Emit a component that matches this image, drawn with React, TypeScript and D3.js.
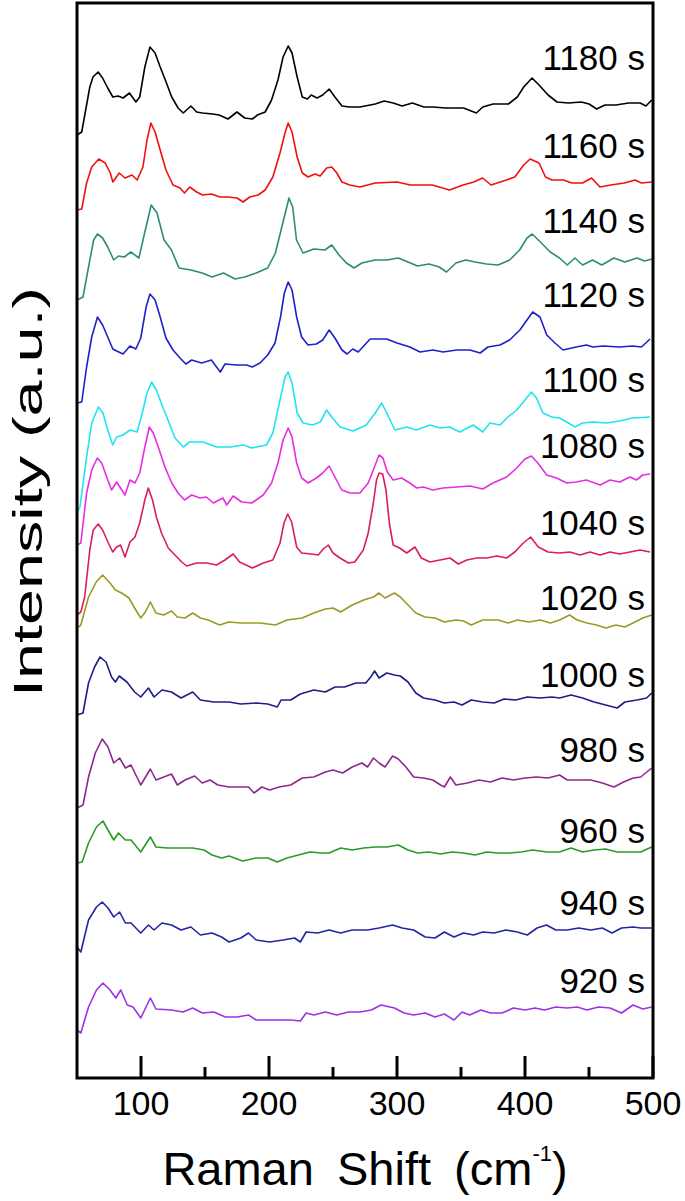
import React from "react";
import * as d3 from "d3";

// ---- Data (Raman shift in cm-1, intensity in a.u., stacked spectra) ----
const labels = ["1180 s", "1160 s", "1140 s", "1120 s", "1100 s", "1080 s", "1040 s", "1020 s", "1000 s", "980 s", "960 s", "940 s", "920 s"];
const colors = ["#000000", "#f01010", "#2e8b7a", "#2020c8", "#20e4ee", "#e62ee0", "#d81e5e", "#9a9a22", "#1e1e86", "#8c2a8c", "#2a9a2a", "#2424a6", "#9a32e6"];
const labelLevels = [1008, 920, 845, 771, 686, 620, 543, 468, 391, 316, 235, 163, 85];
const xTicksMajor = [100, 200, 300, 400, 500];
const xTicksMinor = [150, 250, 350, 450];

const spec1180: [number, number][] = [[50,943],[53.7,946],[60,991],[62.5,1001],[66.5,1006],[70,1000],[74,990],[78,981],[82,982],[86,980],[91,985],[96,976],[99,981],[103,1011],[107,1031],[111,1025],[115,1011],[119,998],[124,981],[129,970],[133,965],[139,972],[143.5,966],[148,965],[156,964],[161,963],[168,959],[175,966],[181,960],[187,959],[191,963],[197,966],[202,978],[207,998],[211,1021],[215,1032],[218,1025],[222,1001],[226,981],[230,979],[233,983],[237.5,980],[242,983],[247,989],[251.5,981],[257,972],[263,971],[271,971],[275,972],[283,974],[290,977],[297,975],[304,972],[312,975],[321,971],[328,971],[338,970],[352,970],[362,965],[367,971],[375,974],[387,974],[394,981],[399,991],[405.5,1000],[411,993],[418,983],[425,976],[434,975],[444,976],[450,974],[456,969],[462.5,973],[471,973],[481,975],[490,975],[494.5,972],[499,978]];

const spec1160: [number, number][] = [[50,868],[53.7,869],[57.5,895],[61.5,911],[67,919],[72,915],[76,905],[78,896],[83,905],[87.5,900],[93,903],[97,898],[101.5,911],[104.7,938],[107.7,955],[111,946],[115,928],[119.5,908],[125,893],[130.5,890],[134,885],[138,891],[143.5,886],[148,883],[155,884],[161.7,881],[168,881],[175,880],[179.7,876],[185,881],[191.5,883],[197,888],[203,901],[208.6,925],[212.5,945],[215,955],[218,946],[222,921],[226,905],[230.5,901],[236,904],[240,902],[245,910],[249,911],[253,905],[257,896],[263,893],[271,891],[283,895],[300,896],[310.5,893],[327.5,893],[341,888],[351.6,893],[360,896],[366.8,900],[373.5,893],[385.5,898],[392,901],[399,913],[404,919],[411,915],[416,901],[421,898],[430,898],[436.6,895],[445,895],[452,900],[458.6,891],[467,893],[477.7,895],[486,898],[491,895],[499,896]];

const spec1140: [number, number][] = [[50,778],[54.7,781],[59,811],[63,838],[66,844],[70,840],[74,831],[78.7,818],[82.4,822],[87,821],[92,826],[98.4,820],[102.8,845],[108,873],[112.5,865],[118,838],[123.8,828],[129.7,810],[139,808],[147.8,805],[155.5,801],[164.5,805],[173.5,799],[181,801],[190,805],[199,810],[205,825],[210,851],[215.6,880],[218.5,871],[221.5,838],[226.6,825],[235,829],[243.7,828],[249,833],[254.7,823],[260.5,815],[266.4,810],[272.5,815],[283,818],[292,818],[301,820],[308.6,816],[316,812],[325,814],[333,811],[338.7,806],[346,815],[353.7,818],[361,816],[370,814],[379,813],[388,818],[395.8,828],[401.6,840],[405.6,844],[412,836],[419.7,826],[427,820],[433,813],[439,820],[445,813],[452.8,818],[460,813],[469.5,820],[478,816],[487.5,820],[493.4,817],[499,819]];

const spec1120: [number, number][] = [[50,675],[53.7,676],[57.5,711],[61.5,741],[66,761],[70,753],[74,741],[78,729],[81,727],[86,724],[91.4,732],[96,729],[99.8,740],[104,771],[107,784],[111,778],[115,761],[119.5,740],[125,728],[130.5,720],[135,714],[139.6,718],[147.4,715],[155,718],[159,711],[162,706],[165.6,714],[174.7,713],[182.5,713],[187,711],[193,715],[199,723],[204.7,735],[209,761],[212,785],[215,796],[218,788],[221.6,761],[225.5,741],[230.5,733],[237,734],[242,738],[247,748],[251.5,740],[257,728],[261,724],[265.4,729],[269.7,726],[279,739],[292,739],[300,735],[310,731],[318,726],[328,728],[336,726],[346.6,728],[357,728],[365,725],[371,731],[380.5,733],[388,738],[396,748],[406,766],[411.7,761],[417,743],[423.4,735],[429.7,728],[440,731],[448,733],[453,731],[461,732],[474,731],[484,732],[491,731],[497.7,739]];

const spec1100: [number, number][] = [[50,566],[52.3,571],[57.5,621],[61.5,655],[66.7,671],[70.3,665],[74,648],[77.9,633],[81,641],[86,643],[91.4,648],[97,646],[101,665],[104.7,685],[108.3,696],[112,688],[117,671],[122,655],[126.6,640],[133,631],[138,636],[148.4,636],[159,631],[169.5,631],[180,633],[186.5,630],[198,633],[203,645],[208.6,678],[212.5,701],[215,706],[218,695],[222,665],[226.6,655],[234,653],[240,656],[245,668],[249,661],[255.5,651],[265.8,647],[276,653],[283,665],[288,675],[292,665],[298.4,648],[307.6,651],[315,648],[325.8,653],[333.6,650],[341,651],[349,646],[359.6,653],[367,646],[372.6,655],[380.5,653],[386.7,661],[393.5,668],[400,678],[405,686],[409,680],[414,665],[421,661],[427,660],[432.6,656],[439,651],[445,655],[453,656],[463.8,655],[474,657],[484,660],[497.7,661]];

const spec1080: [number, number][] = [[50,533],[53,535],[57.5,585],[61.5,608],[65.9,620],[69.3,615],[73.2,601],[77,588],[81,596],[85,588],[87.5,583],[91.4,598],[95.3,595],[99,605],[103,631],[106.5,651],[109.6,645],[113.5,631],[118.7,611],[124,595],[129,585],[134,578],[139.6,583],[146,580],[151,581],[156.5,575],[164,580],[167,573],[172,582],[178.7,576],[186.5,575],[195.5,583],[202,595],[207,615],[211,638],[215,650],[218,641],[221.6,615],[225.5,600],[230.6,595],[237,600],[242,605],[247,612],[251.5,601],[256.8,588],[263.3,585],[271,585],[277.5,595],[283,613],[286,623],[289,620],[292.4,606],[297,598],[303.7,600],[310,595],[315.4,590],[320.5,591],[328,588],[336,590],[346.6,591],[357,592],[367,589],[375,595],[385.7,601],[393.5,610],[400,619],[405,622],[410,615],[417,603],[424.7,600],[432.6,595],[440,596],[448,598],[458.6,593],[466.4,598],[474,596],[482,601],[487,598],[492,603],[497.7,604]];

const spec1040: [number, number][] = [[50,463],[53,466],[56,481],[60,528],[62.7,548],[66.6,554],[70,548],[74.5,535],[77.9,526],[81,531],[84,533],[87.5,521],[91.4,536],[95.3,541],[99,555],[103,578],[105.7,590],[109,578],[112,561],[116,545],[121.3,530],[126.5,523],[131.8,516],[135.7,512],[143.5,515],[151.3,515],[159,513],[165.6,518],[172,524],[177,516],[187,510],[195.5,515],[203,518],[208.6,535],[211.7,555],[214.6,564],[217.7,556],[221.6,531],[225.5,525],[233,524],[238.5,523],[242.4,529],[246.3,533],[250,525],[255.5,520],[262,515],[267,516],[273.7,528],[277.5,545],[281.5,575],[284,598],[286,605],[288.8,604],[291.4,588],[294,555],[297,533],[302,530],[307.6,525],[314,531],[319,520],[325.8,516],[333.6,518],[341.4,520],[347.9,514],[354.5,518],[362.3,520],[370,520],[378,522],[385.7,520],[392,526],[398.7,535],[404.4,541],[410.4,531],[418,526],[427,525],[435,526],[443,523],[450.8,526],[458.6,523],[466.4,526],[474,524],[482,526],[489.8,528],[497.7,526]];

const spec1020: [number, number][] = [[50,450],[53,453],[59,481],[65,496],[70,503],[75.8,495],[80,488],[84.8,485],[90.6,480],[95,470],[99.8,460],[103.4,466],[107.3,476],[111.7,465],[117.8,463],[123.8,467],[128.4,461],[134.4,460],[140.4,465],[146.4,460],[152.4,458],[161.4,453],[168.8,456],[178,455],[193,455],[205,453],[214,458],[226,460],[235,465],[244,469],[250,470],[256,466],[265,473],[274,478],[281.6,481],[286,485],[290.6,480],[298,485],[302.6,481],[308.6,473],[314.7,465],[322,461],[329.7,460],[337,456],[346,458],[352,457],[358,453],[367,458],[379,458],[386.8,455],[394,458],[403,456],[412,458],[419.8,455],[427,458],[434.8,463],[440.8,458],[448.4,455],[455.8,453],[463.3,450],[471,453],[478,451],[486,456],[492,460],[499,463]];

const spec1000: [number, number][] = [[50,363],[54.7,365],[59,395],[63.7,411],[68,421],[72.7,416],[77,401],[80,396],[83,402],[89,396],[95,386],[99.8,381],[105.8,390],[110.2,381],[116.4,388],[123.8,386],[131.3,380],[140.4,386],[146.4,378],[156.9,376],[168.8,376],[178,374],[190,375],[199,374],[206.5,371],[209.4,378],[217,378],[224.5,384],[235,388],[244,386],[251.6,391],[259,391],[268,395],[275.6,395],[279.5,401],[282.5,407],[286,400],[292,405],[298,403],[302.6,402],[308.6,396],[314.7,385],[320.7,380],[329.7,378],[337,375],[344.5,376],[350.8,373],[358,378],[367,376],[376,375],[383.6,379],[392.8,378],[401.8,381],[412,380],[421,381],[427,380],[436,383],[445,380],[454,376],[463,373],[472,370],[478,376],[487.5,378],[495,380],[499,385]];

const spec980: [number, number][] = [[50,270],[54.7,273],[59,301],[64.3,325],[69.7,339],[74.2,331],[78.7,315],[83.3,320],[87.8,310],[92.2,313],[99.8,293],[107.3,309],[111.7,298],[117.8,301],[123.8,304],[128.4,293],[134.4,298],[141.9,302],[147.9,295],[154,298],[160,293],[168.8,291],[178,291],[184,291],[188.3,285],[194.4,291],[200.5,288],[208,291],[217,293],[226,300],[235,301],[244,306],[250,308],[257.5,305],[265,311],[272.6,315],[277,311],[281.6,320],[286,315],[290.6,311],[296.6,322],[301,319],[307,311],[313,301],[320.7,300],[328,298],[334,293],[337,291],[341.7,301],[346,293],[355,295],[364,298],[373,296],[382,300],[391,298],[400,300],[409,301],[418,300],[427,303],[433,298],[440.8,298],[451.4,298],[460.4,295],[469.5,291],[477,296],[484.6,300],[490.4,301],[499,310]];

const spec960: [number, number][] = [[50,215],[54,216],[59,235],[65.2,251],[70.3,257],[74.2,248],[78.7,238],[82.4,245],[87.8,238],[92.2,238],[99.8,226],[107.3,241],[111.7,231],[120.8,230],[129.7,230],[140.4,230],[149.3,228],[155.5,223],[163,220],[168.8,222],[179.4,217],[190,220],[199,220],[206.5,216],[214,220],[223,223],[232,226],[241,225],[246.9,225],[256,230],[265,228],[274,230],[283,231],[292,231],[301,233],[308.6,228],[316,225],[325,226],[334,224],[343,226],[352,225],[361,223],[370,226],[379,225],[388,225],[397,226],[406,228],[416.8,226],[427,226],[436,230],[445,226],[454,228],[463,229],[472,226],[481,226],[490.4,226],[499,231]];

const spec940: [number, number][] = [[50,131],[53,126],[59,158],[65.2,171],[69.7,176],[74.2,170],[78.7,161],[83.3,166],[87.8,155],[92.2,155],[99.8,145],[105.8,153],[110.2,148],[116.4,155],[123.8,153],[131.3,148],[139,151],[146.4,143],[155.5,145],[163,141],[168.8,136],[178,140],[184,145],[190,138],[200.5,136],[211,138],[220,140],[224.5,136],[229,146],[238,145],[246.9,148],[256,145],[265,148],[277,148],[286,150],[296.6,153],[304,150],[313,148],[322,141],[329.7,140],[337,146],[344.5,141],[352,145],[359.8,143],[367,146],[376,145],[385,148],[394,146],[401.8,143],[409.4,150],[416.8,153],[424,148],[433,148],[442,150],[451.4,148],[460.4,150],[468,145],[475.4,150],[484.4,151],[490.4,150],[499,150]];

const spec920: [number, number][] = [[50,48],[53,45],[59,71],[65.2,88],[70.3,95],[75.8,88],[80.3,80],[84.2,88],[89.3,73],[93.8,71],[99.8,60],[107.3,80],[111.7,69],[123.8,68],[132.8,66],[140.4,70],[147.9,65],[156.9,66],[165.9,61],[175,61],[184,63],[190,58],[205,58],[217,58],[224.5,57],[229,65],[235,63],[244,66],[253,63],[262,66],[271,66],[280,68],[287.5,73],[298,70],[305.5,65],[313,63],[322,65],[329.7,61],[337,64],[344.5,58],[350.8,66],[356.7,63],[365.6,68],[373,65],[382,65],[391,70],[400,68],[407.8,70],[415.3,68],[424,71],[433,70],[440.8,71],[448.4,68],[457.4,71],[466.4,70],[475.4,65],[484.4,73],[492,69],[499,71]];

const spectra = [spec1180, spec1160, spec1140, spec1120, spec1100, spec1080, spec1040, spec1020, spec1000, spec980, spec960, spec940, spec920];

// ---- Layout ----
const W = 685;
const H = 1201;
const FONT = "'Liberation Sans', Arial, Helvetica, sans-serif";

export default function App() {
  const x = d3.scaleLinear().domain([50, 500]).range([77, 653]);
  const y = d3.scaleLinear().domain([0, 1075]).range([1078, 3]);
  const line = d3
    .line<[number, number]>()
    .x((d) => x(d[0]))
    .y((d) => y(d[1]));

  const left = x(50);
  const right = x(500);
  const top = y(1075);
  const bottom = y(0);

  return (
    <svg
      width={W}
      height={H}
      viewBox={`0 0 ${W} ${H}`}
      style={{ position: "absolute", left: 0, top: 0, background: "#fff" }}
      fontFamily={FONT}
    >
      <rect x={0} y={0} width={W} height={H} fill="#fff" />
      {spectra.map((s, i) => (
        <path key={labels[i]} d={line(s) || ""} fill="none" stroke={colors[i]} strokeWidth={1.6} strokeLinejoin="round" />
      ))}
      {labels.map((l, i) => (
        <text key={l} x={645} y={y(labelLevels[i])} fontSize={35} textAnchor="end" fill="#000">
          {l}
        </text>
      ))}
      {/* frame */}
      <rect x={left} y={top} width={right - left} height={bottom - top} fill="none" stroke="#000" strokeWidth={3} />
      {xTicksMajor.map((t) => (
        <line key={"M" + t} x1={x(t)} x2={x(t)} y1={bottom} y2={bottom - 22} stroke="#000" strokeWidth={3} />
      ))}
      {xTicksMinor.map((t) => (
        <line key={"m" + t} x1={x(t)} x2={x(t)} y1={bottom} y2={bottom - 11} stroke="#000" strokeWidth={3} />
      ))}
      {xTicksMajor.map((t) => (
        <text key={"L" + t} x={x(t)} y={bottom + 37} fontSize={34} textAnchor="middle" fill="#000">
          {t}
        </text>
      ))}
      <text x={(left + right) / 2} y={1185} fontSize={47} textAnchor="middle" fill="#000" style={{ wordSpacing: "10px" }}>
        <tspan>Raman Shift (cm</tspan>
        <tspan dy={-24} fontSize={22}>-1</tspan>
        <tspan dy={24}>)</tspan>
      </text>
      <text
        transform={`translate(42, 492) rotate(-90)`}
        fontSize={41}
        textAnchor="middle"
        textLength={410}
        lengthAdjust="spacingAndGlyphs"
        fill="#000"
      >
        Intensity (a.u.)
      </text>
    </svg>
  );
}
